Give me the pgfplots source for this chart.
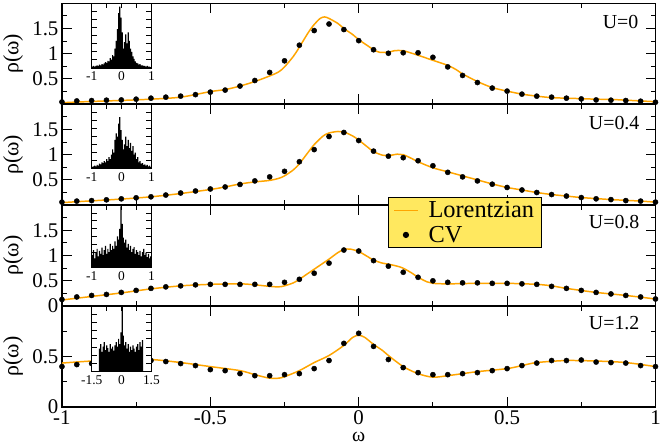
\documentclass[border=0pt]{standalone}
\usepackage{fontspec}
\setmainfont{Liberation Serif}
\usepackage{pgfplots}
\pgfplotsset{compat=1.18}
\usepackage{pgfplotstable}
\usetikzlibrary{calc}

\definecolor{lorange}{RGB}{255,165,0}
\definecolor{legyellow}{RGB}{255,232,95}

\pgfplotstableread{
x c1 c2 c3 c4
-1.00 0.045 0.06 0.13 0.40
-0.95 0.065 0.08 0.18 0.42
-0.90 0.073 0.09 0.21 0.43
-0.85 0.080 0.105 0.23 0.45
-0.80 0.085 0.125 0.27 0.46
-0.75 0.10 0.145 0.31 0.46
-0.70 0.12 0.165 0.35 0.46
-0.65 0.14 0.20 0.38 0.45
-0.60 0.16 0.24 0.40 0.43
-0.55 0.19 0.28 0.42 0.41
-0.50 0.24 0.32 0.43 0.37
-0.45 0.28 0.36 0.43 0.36
-0.40 0.36 0.41 0.43 0.33
-0.35 0.47 0.48 0.43 0.31
-0.30 0.63 0.56 0.43 0.31
-0.25 0.86 0.67 0.47 0.32
-0.20 1.17 0.86 0.53 0.33
-0.15 1.46 1.10 0.65 0.38
-0.10 1.59 1.36 0.85 0.46
-0.05 1.48 1.44 1.11 0.63
0.00 1.26 1.28 1.09 0.73
0.05 1.08 1.07 0.90 0.60
0.10 1.01 0.97 0.79 0.47
0.15 1.02 0.94 0.67 0.39
0.20 1.02 0.88 0.57 0.34
0.25 0.93 0.78 0.50 0.32
0.30 0.74 0.65 0.47 0.32
0.35 0.57 0.56 0.46 0.33
0.40 0.43 0.48 0.46 0.34
0.45 0.32 0.415 0.45 0.36
0.50 0.26 0.35 0.45 0.38
0.55 0.20 0.30 0.44 0.41
0.60 0.16 0.25 0.43 0.435
0.65 0.14 0.21 0.39 0.46
0.70 0.12 0.18 0.35 0.46
0.75 0.105 0.15 0.31 0.465
0.80 0.085 0.125 0.27 0.445
0.85 0.08 0.11 0.24 0.44
0.90 0.073 0.09 0.21 0.435
0.95 0.06 0.08 0.18 0.41
1.00 0.04 0.06 0.14 0.40
}\cvdata

\pgfplotstableread{
x h1 h2 h3
-1.00 0.02 0.03 0.20
-0.96 0.03 0.04 0.28
-0.92 0.02 0.05 0.15
-0.88 0.03 0.04 0.25
-0.84 0.04 0.06 0.30
-0.80 0.03 0.05 0.18
-0.76 0.05 0.08 0.27
-0.72 0.04 0.07 0.22
-0.68 0.06 0.10 0.32
-0.64 0.05 0.09 0.20
-0.60 0.07 0.12 0.28
-0.56 0.09 0.10 0.35
-0.52 0.08 0.15 0.22
-0.48 0.11 0.12 0.30
-0.44 0.10 0.18 0.25
-0.40 0.15 0.15 0.38
-0.36 0.13 0.22 0.28
-0.32 0.20 0.30 0.35
-0.28 0.18 0.25 0.30
-0.24 0.30 0.45 0.42
-0.20 0.42 0.55 0.35
-0.16 0.60 0.50 0.50
-0.12 0.85 0.70 0.45
-0.08 0.95 0.80 0.62
-0.04 0.78 0.60 0.98
0.00 0.55 0.45 0.70
0.04 0.30 0.30 0.48
0.08 0.40 0.38 0.40
0.12 0.52 0.50 0.45
0.16 0.38 0.35 0.32
0.20 0.55 0.45 0.38
0.24 0.42 0.32 0.28
0.28 0.30 0.40 0.35
0.32 0.25 0.28 0.25
0.36 0.18 0.35 0.30
0.40 0.14 0.22 0.33
0.44 0.10 0.25 0.22
0.48 0.08 0.15 0.28
0.52 0.07 0.18 0.25
0.56 0.05 0.10 0.20
0.60 0.06 0.12 0.27
0.64 0.04 0.08 0.18
0.68 0.04 0.09 0.25
0.72 0.03 0.06 0.30
0.76 0.03 0.07 0.20
0.80 0.02 0.05 0.24
0.84 0.03 0.06 0.17
0.88 0.02 0.04 0.22
0.92 0.02 0.05 0.15
0.96 0.01 0.03 0.18
1.00 0.01 0.03 0.18
}\histA

\pgfplotstableread{
x h4
-1.50 0
-1.44 0
-1.38 0
-1.32 0
-1.26 0
-1.20 0
-1.14 0.35
-1.08 0.42
-1.02 0.30
-0.96 0.38
-0.90 0.45
-0.84 0.33
-0.78 0.40
-0.72 0.36
-0.66 0.30
-0.60 0.42
-0.54 0.35
-0.48 0.38
-0.42 0.32
-0.36 0.40
-0.30 0.45
-0.24 0.38
-0.18 0.50
-0.12 0.42
-0.06 0.60
0.00 1.00
0.06 0.55
0.12 0.40
0.18 0.45
0.24 0.35
0.30 0.42
0.36 0.30
0.42 0.38
0.48 0.33
0.54 0.40
0.60 0.35
0.66 0.30
0.72 0.38
0.78 0.42
0.84 0.33
0.90 0.45
0.96 0.38
1.02 0.48
1.08 0
1.14 0
1.20 0
1.26 0
1.32 0
1.38 0
1.44 0
1.50 0
}\histB

\pgfplotsset{
  mainpanel/.style={
    scale only axis, width=597pt, height=101.5pt,
    xmin=-1, xmax=1, ymin=0,
    xtick={-1,-0.5,0,0.5,1}, minor x tick num=1,
    minor y tick num=1,
    tick align=inside, tick pos=both,
    major tick length=10pt, minor tick length=5pt,
    every tick/.style={black, line width=1pt},
    axis line style={line width=1.6pt},
    /pgf/number format/assume math mode=true,
    tick label style={font=\fontsize{21}{22}\selectfont},
    ylabel={ρ(ω)},
    every axis y label/.style={at={(rel axis cs:0,0.5)}, xshift=-49pt, rotate=90, anchor=center, font=\fontsize{22}{24}\selectfont},
    clip=true,
  },
  inset/.style={
    scale only axis, width=60pt, height=65pt,
    anchor=north west,
    ymin=0, ymax=1,
    ytick={0,0.25,0.5,0.75,1}, minor y tick num=1, yticklabels={},
    tick align=inside, tick pos=both,
    major tick length=5pt, minor tick length=5pt,
    every tick/.style={black, line width=0.8pt},
    axis line style={line width=1.2pt},
    axis background/.style={fill=white},
    /pgf/number format/assume math mode=true,
    xticklabel style={font=\fontsize{13.5}{14}\selectfont},
  },
  lor/.style={lorange, line width=1.5pt, smooth, no marks},
  cv/.style={only marks, mark=*, mark size=2.6pt, black},
}
\tikzset{ulab/.style={anchor=north east, inner sep=0pt, font=\fontsize{20}{22}\selectfont}}

\begin{document}
\begin{tikzpicture}
% ---------- Panel 1: U=0
\begin{axis}[mainpanel, name=p1, at={(0,0)}, anchor=north west,
  ymax=2, ytick={0,0.5,1,1.5,2}, yticklabels={{},0.5,1,1.5,{}}, xticklabels={}]
\addplot[lor] coordinates {(-1,0.03) (-0.9,0.055) (-0.8,0.075) (-0.7,0.1) (-0.6,0.14) (-0.5,0.25) (-0.45,0.29) (-0.4,0.36) (-0.35,0.45) (-0.3,0.56) (-0.27,0.64) (-0.25,0.74) (-0.22,0.95) (-0.2,1.13) (-0.17,1.42) (-0.15,1.58) (-0.13,1.70) (-0.115,1.73) (-0.1,1.70) (-0.07,1.60) (-0.05,1.50) (-0.02,1.38) (0,1.28) (0.03,1.16) (0.05,1.08) (0.07,1.03) (0.1,1.03) (0.12,1.06) (0.15,1.06) (0.2,0.97) (0.25,0.87) (0.3,0.77) (0.33,0.68) (0.35,0.60) (0.4,0.45) (0.45,0.33) (0.5,0.26) (0.55,0.20) (0.6,0.16) (0.65,0.13) (0.7,0.12) (0.75,0.11) (0.8,0.10) (0.85,0.095) (0.9,0.08) (0.95,0.065) (1,0.05)};
\addplot[cv] table[x=x, y=c1] {\cvdata};
\node[ulab] at (rel axis cs:1,1) [xshift=-17pt, yshift=-12pt] {U=0};
\end{axis}
\begin{axis}[inset, at={($(p1.north west)+(30pt,0)$)}, xmin=-1, xmax=1, xtick={-1,0,1}, minor xtick={-0.5,0.5}]
\addplot[const plot, fill=black, draw=none] table[x=x, y=h1] {\histA} \closedcycle;
\end{axis}
% ---------- Panel 2: U=0.4
\begin{axis}[mainpanel, name=p2, at={(p1.south west)}, anchor=north west,
  ymax=2, ytick={0,0.5,1,1.5,2}, yticklabels={{},0.5,1,1.5,{}}, xticklabels={}]
\addplot[lor] coordinates {(-1,0.05) (-0.9,0.085) (-0.8,0.12) (-0.7,0.165) (-0.6,0.23) (-0.5,0.31) (-0.45,0.36) (-0.4,0.42) (-0.35,0.46) (-0.3,0.49) (-0.27,0.53) (-0.25,0.58) (-0.22,0.70) (-0.2,0.82) (-0.17,1.05) (-0.15,1.20) (-0.12,1.37) (-0.1,1.43) (-0.07,1.46) (-0.05,1.45) (-0.02,1.37) (0,1.29) (0.03,1.15) (0.05,1.06) (0.08,0.99) (0.1,0.98) (0.13,1.01) (0.15,1.00) (0.18,0.92) (0.2,0.86) (0.25,0.74) (0.3,0.66) (0.35,0.58) (0.4,0.50) (0.45,0.42) (0.5,0.35) (0.55,0.30) (0.6,0.25) (0.65,0.21) (0.7,0.18) (0.75,0.15) (0.8,0.13) (0.85,0.11) (0.9,0.095) (0.95,0.08) (1,0.06)};
\addplot[cv] table[x=x, y=c2] {\cvdata};
\node[ulab] at (rel axis cs:1,1) [xshift=-16pt, yshift=-12pt] {U=0.4};
\end{axis}
\begin{axis}[inset, at={($(p2.north west)+(30pt,0)$)}, xmin=-1, xmax=1, xtick={-1,0,1}, minor xtick={-0.5,0.5}]
\addplot[const plot, fill=black, draw=none] table[x=x, y=h2] {\histA} \closedcycle;
\end{axis}
% ---------- Panel 3: U=0.8
\begin{axis}[mainpanel, name=p3, at={(p2.south west)}, anchor=north west,
  ymax=2, ytick={0,0.5,1,1.5,2}, yticklabels={0,0.5,1,1.5,{}}, xticklabels={},
  legend style={at={(0.549,1.08)}, anchor=north west, fill=legyellow, draw=black, line width=1pt,
    font=\fontsize{24.5}{26}\selectfont, inner xsep=5pt, inner ysep=2pt, row sep=3pt, column sep=8pt},
  legend image code/.code={\draw[mark repeat=2,mark phase=2,#1] plot coordinates {(0pt,0pt) (12pt,0pt) (24pt,0pt)};},
  legend cell align=left]
\addplot[lor] coordinates {(-1,0.12) (-0.9,0.19) (-0.8,0.26) (-0.7,0.34) (-0.6,0.40) (-0.5,0.43) (-0.4,0.44) (-0.35,0.42) (-0.3,0.39) (-0.27,0.38) (-0.25,0.40) (-0.22,0.46) (-0.2,0.53) (-0.17,0.65) (-0.15,0.73) (-0.12,0.85) (-0.1,0.93) (-0.07,1.06) (-0.05,1.12) (-0.03,1.13) (0,1.08) (0.03,0.98) (0.05,0.91) (0.08,0.85) (0.1,0.83) (0.13,0.79) (0.15,0.75) (0.18,0.65) (0.2,0.57) (0.23,0.48) (0.25,0.45) (0.3,0.44) (0.4,0.45) (0.5,0.45) (0.6,0.43) (0.65,0.40) (0.7,0.35) (0.8,0.27) (0.9,0.21) (1,0.14)};
\addlegendentry{Lorentzian}
\addplot[cv] table[x=x, y=c3] {\cvdata};
\addlegendentry{CV}
\node[ulab] at (rel axis cs:1,1) [xshift=-16pt, yshift=-10pt] {U=0.8};
\end{axis}
\begin{axis}[inset, at={($(p3.north west)+(30pt,0)$)}, height=63pt, xmin=-1, xmax=1, xtick={-1,0,1}, minor xtick={-0.5,0.5}]
\addplot[const plot, fill=black, draw=none] table[x=x, y=h3] {\histA} \closedcycle;
\end{axis}
% ---------- Panel 4: U=1.2
\begin{axis}[mainpanel, name=p4, at={(p3.south west)}, anchor=north west,
  ymax=1, ytick={0,0.5,1}, yticklabels={0,0.5,{}},
  xlabel={ω}, xlabel style={font=\fontsize{20}{22}\selectfont, yshift=-1pt}]
\addplot[lor] coordinates {(-1,0.435) (-0.9,0.455) (-0.8,0.465) (-0.7,0.47) (-0.6,0.44) (-0.5,0.40) (-0.4,0.36) (-0.35,0.32) (-0.3,0.285) (-0.27,0.285) (-0.25,0.30) (-0.2,0.36) (-0.15,0.44) (-0.1,0.51) (-0.05,0.61) (-0.02,0.69) (0,0.71) (0.02,0.69) (0.05,0.62) (0.08,0.56) (0.1,0.51) (0.15,0.40) (0.2,0.33) (0.25,0.295) (0.3,0.31) (0.35,0.33) (0.4,0.35) (0.5,0.38) (0.55,0.41) (0.6,0.44) (0.7,0.46) (0.8,0.455) (0.9,0.44) (1,0.40)};
\addplot[cv] table[x=x, y=c4] {\cvdata};
\node[ulab] at (rel axis cs:1,1) [xshift=-16pt, yshift=-10pt] {U=1.2};
\end{axis}
\begin{axis}[inset, at={($(p4.north west)+(30pt,0)$)}, height=66pt, xmin=-1.5, xmax=1.5, xtick={-1.5,0,1.5}, minor xtick={-0.75,0.75}]
\addplot[const plot, fill=black, draw=none] table[x=x, y=h4] {\histB} \closedcycle;
\end{axis}
\end{tikzpicture}
\end{document}
